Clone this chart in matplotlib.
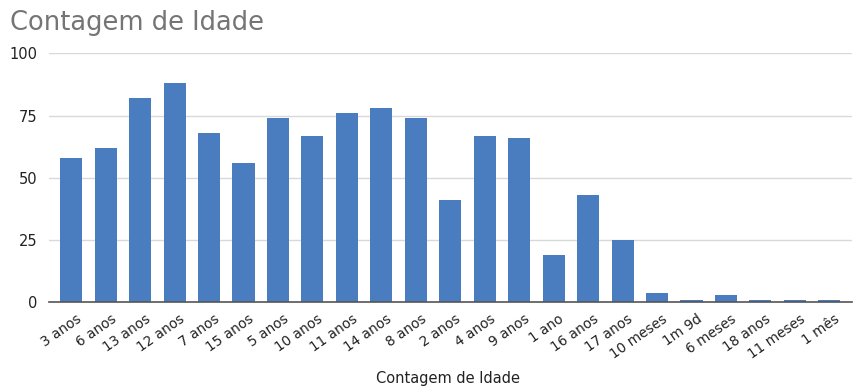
import matplotlib
matplotlib.use("Agg")
import matplotlib.pyplot as plt
import matplotlib.transforms as mtransforms

# Data
categorias = ["3 anos", "6 anos", "13 anos", "12 anos", "7 anos", "15 anos",
              "5 anos", "10 anos", "11 anos", "14 anos", "8 anos", "2 anos",
              "4 anos", "9 anos", "1 ano", "16 anos", "17 anos", "10 meses",
              "1m 9d", "6 meses", "18 anos", "11 meses", "1 mês"]
contagem = [58, 62, 82, 88, 68, 56, 74, 67, 76, 78, 74, 41,
            67, 66, 19, 43, 25, 4, 1, 3, 1, 1, 1]
yticks = [0, 25, 50, 75, 100]

plt.rcParams['font.family'] = ['DejaVu Sans']

fig = plt.figure(figsize=(8.56, 3.88), dpi=100)
ax = fig.add_axes([0.057, 0.2204, 0.938, 0.6422])

x = range(len(categorias))
ax.bar(x, contagem, width=0.64, color='#4a7dbf', zorder=3)

ax.set_ylim(0, 100)
ax.set_xlim(-0.65, len(categorias) - 0.35)
ax.set_yticks(yticks)
ax.set_yticklabels([str(v) for v in yticks], fontsize=10.5, color='#222222')
ax.grid(axis='y', color='#d9d9d9', linewidth=1, zorder=0)
ax.tick_params(axis='both', length=0)
ax.tick_params(axis='y', pad=8)

ax.set_xticks(list(x))
ax.set_xticklabels(categorias, rotation=35, ha='right', rotation_mode='anchor',
                   fontsize=9.8, color='#222222')
ax.tick_params(axis='x', pad=7)
# shift the rotated labels a little to the right, like the original
offset = mtransforms.ScaledTranslation(5 / 100, 0, fig.dpi_scale_trans)
for lab in ax.get_xticklabels():
    lab.set_transform(lab.get_transform() + offset)

for s in ['top', 'right', 'left']:
    ax.spines[s].set_visible(False)
ax.spines['bottom'].set_color('#555555')
ax.spines['bottom'].set_linewidth(1.2)
ax.spines['bottom'].set_zorder(4)

fig.text(0.012, 0.923, "Contagem de Idade", fontsize=18.5, color='#757575',
         ha='left', va='baseline')
fig.text(0.523, 0.012, "Contagem de Idade", fontsize=10.5, color='#222222',
         ha='center', va='baseline')

fig.savefig("out.png", dpi=100)
